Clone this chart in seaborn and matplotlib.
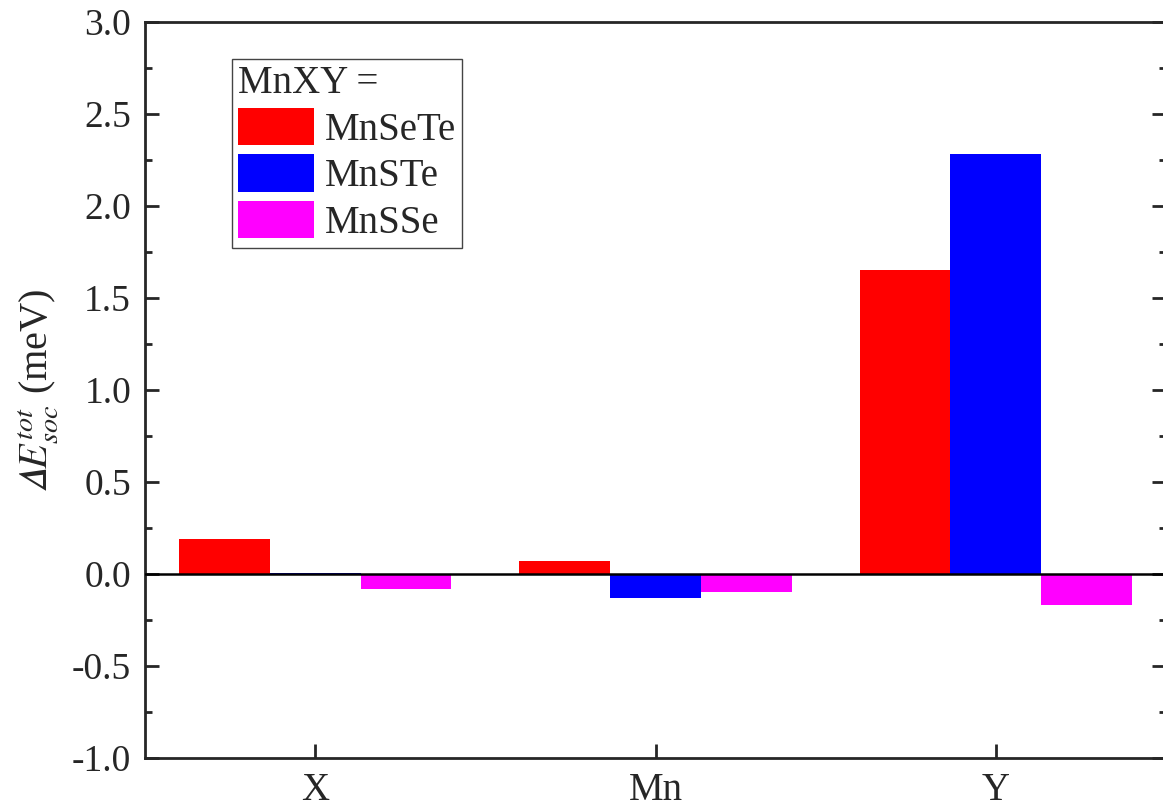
import numpy as np
import pandas as pd
import matplotlib
matplotlib.use("Agg")
import matplotlib.pyplot as plt
import matplotlib.ticker as ticker
import seaborn as sns

# data
sites = ["X", "Mn", "Y"]
compounds = ["MnSeTe", "MnSTe", "MnSSe"]
mnsete = [0.19, 0.07, 1.65]
mnste = [0.005, -0.13, 2.28]
mnsse = [-0.08, -0.10, -0.17]
colors = ["#FF0000", "#0000FF", "#FF00FF"]

df = pd.DataFrame({
    "site": sites * 3,
    "compound": np.repeat(compounds, 3),
    "dE": mnsete + mnste + mnsse,
})

sns.set_style("ticks")
plt.rcParams.update({
    "font.family": ["Liberation Serif", "DejaVu Serif"],
    "mathtext.fontset": "stix",
    "font.size": 27,
    "axes.linewidth": 2.0,
})

fig = plt.figure(figsize=(11.63, 8.11), dpi=100)
ax = fig.add_axes([145 / 1163, 1 - 758 / 811, 1021 / 1163, (758 - 22) / 811])

sns.barplot(
    data=df, x="site", y="dE", hue="compound",
    order=sites, hue_order=compounds,
    palette=colors, width=0.8, saturation=1,
    edgecolor="none", linewidth=0, ax=ax,
)

# zero line
ax.axhline(0, color="black", linewidth=1.8, zorder=3)

ax.set_xlim(-0.5, 2.5)
ax.set_ylim(-1.0, 3.0)
ax.set_yticks(np.arange(-1.0, 3.01, 0.5))
ax.yaxis.set_major_formatter(ticker.FormatStrFormatter("%.1f"))
ax.yaxis.set_minor_locator(ticker.MultipleLocator(0.25))
ax.tick_params(axis="y", which="major", direction="in", length=10, width=2,
               right=True, labelsize=27, pad=10)
ax.tick_params(axis="y", which="minor", direction="in", length=5, width=2,
               right=True)
ax.tick_params(axis="x", which="major", direction="in", length=10, width=2,
               top=False, labelsize=28, pad=10)

ax.set_xlabel("")
ax.set_ylabel(r"$\it{𝛥E}_{soc}^{tot}$ (meV)", fontsize=29, labelpad=8)

for s in ax.spines.values():
    s.set_linewidth(2.0)

handles, labels = ax.get_legend_handles_labels()
leg = ax.legend(
    handles, labels, title="MnXY =", loc="upper left",
    bbox_to_anchor=(87 / 1021, (758 - 59) / 736), fontsize=28, title_fontsize=28,
    alignment="left", frameon=True, fancybox=False, edgecolor="#444444",
    framealpha=1, handlelength=1.95, handleheight=1.1, handletextpad=0.3,
    labelspacing=0.15, borderpad=0.15, borderaxespad=0,
)
leg.get_frame().set_linewidth(1.0)

fig.savefig("out.png", dpi=100, facecolor="white")
